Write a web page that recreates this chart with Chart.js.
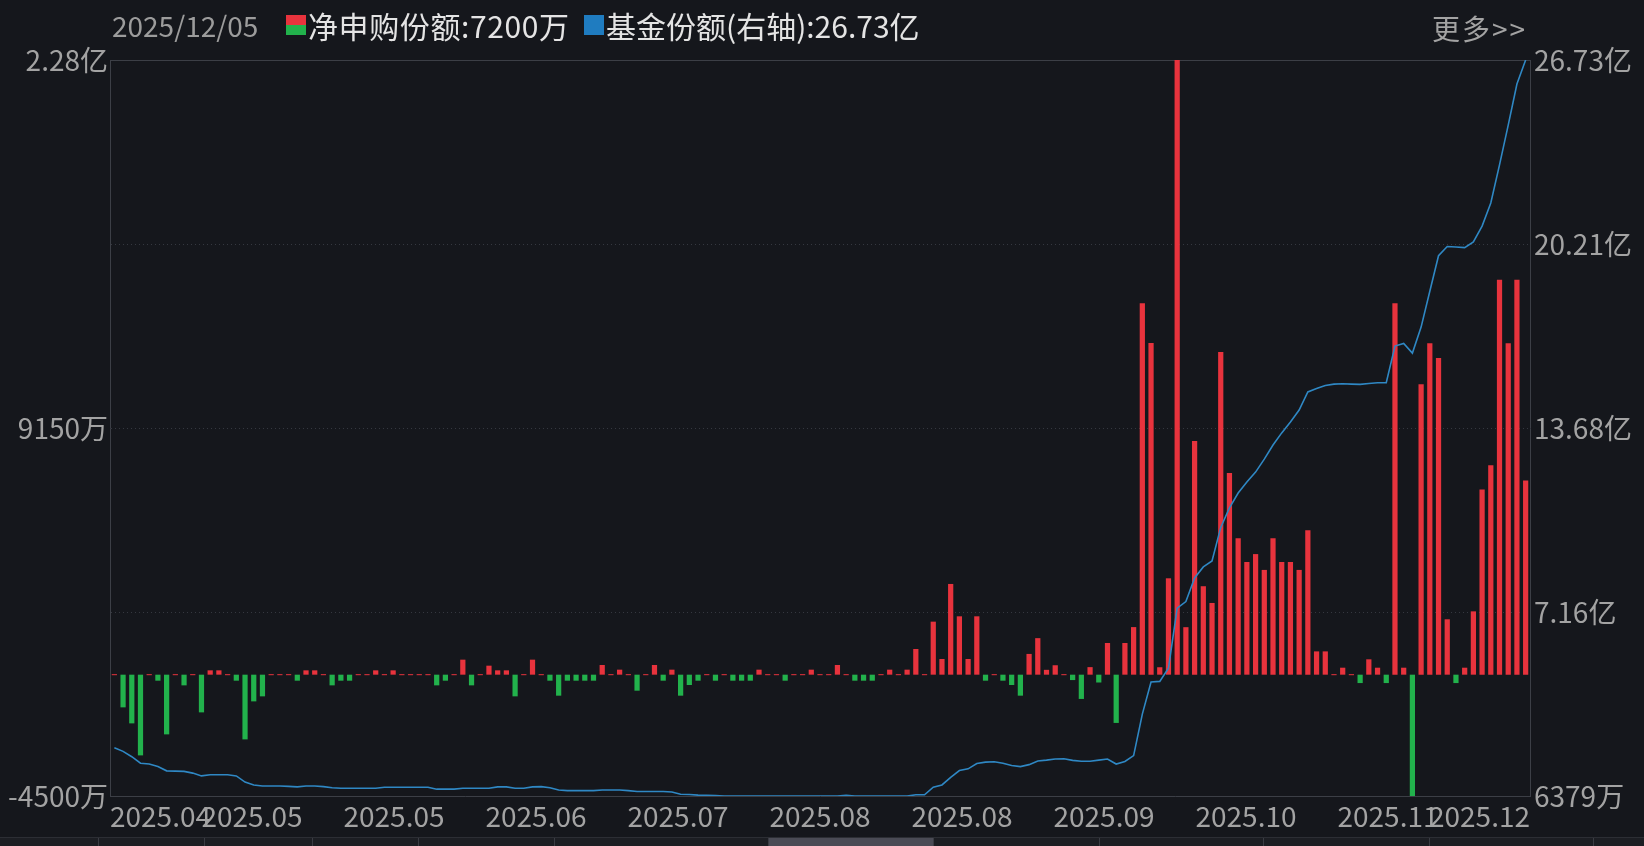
<!DOCTYPE html>
<html>
<head>
<meta charset="utf-8">
<script src="https://cdn.jsdelivr.net/npm/chart.js@4.4.1/dist/chart.umd.min.js"></script>
<style>
  html, body { margin: 0; padding: 0; background: #15171c; }
  #wrap { position: relative; width: 1644px; height: 846px; overflow: hidden;
          font-family: 'Noto Sans CJK SC', 'Noto Sans', sans-serif; }
  #chart { position: absolute; left: 0; top: 0; }
  .hd { position: absolute; top: 8px; height: 34px; line-height: 34px; font-size: 28px; white-space: nowrap; }
  .sq { position: absolute; top: 15px; width: 20px; height: 20px; }
  #nav { position: absolute; left: 0; top: 837px; width: 1644px; height: 9px; background: #1c1e23; border-top: 1px solid #2c2e34; }
  #nav div { position: absolute; top: 0; height: 9px; border-left: 1px solid #3a3c43; }
</style>
</head>
<body>
<div id="wrap">
  <canvas id="chart" width="1644" height="846"></canvas>
  <div class="hd" style="left:112px;color:#9c9c9c">2025/12/05</div>
  <div class="sq" style="left:286px;background:linear-gradient(#e8333d 50%, #22b24c 50%)"></div>
  <div class="hd" style="left:308px;font-size:30px;letter-spacing:0.6px;color:#e4e4e4">净申购份额:7200万</div>
  <div class="sq" style="left:584px;background:#1f7cc0"></div>
  <div class="hd" style="left:606px;font-size:30px;color:#e4e4e4">基金份额(右轴):26.73亿</div>
  <div class="hd" style="left:1432px;top:11px;letter-spacing:2px;color:#a3a3a3">更多&gt;&gt;</div>
  <div id="nav">
    <div style="left:98px;width:106px"></div>
    <div style="left:204px;width:108px"></div>
    <div style="left:312px;width:106px"></div>
    <div style="left:418px;width:136px"></div>
    <div style="left:554px;width:214px"></div>
    <div style="left:768px;width:165px;background:#4a4b55"></div>
    <div style="left:933px;width:166px"></div>
    <div style="left:1099px;width:164px"></div>
    <div style="left:1263px;width:166px"></div>
    <div style="left:1429px;width:164px"></div>
    <div style="left:1593px;width:51px"></div>
  </div>
</div>
<script>
// net subscription per day, in 万
const flows = [
  0, -1212, -1806, -2994, 0, -223, -2214, 0, -396, 0,
  -1398, 161, 161, 0, -223, -2400, -990, -804, 0, 0,
  0, -223, 161, 161, 0, -396, -223, -223, 0, 0,
  161, 0, 161, 0, 0, 0, 0, -396, -223, 0,
  557, -396, 0, 334, 161, 161, -804, 0, 557, 0,
  -223, -779, -223, -223, -223, -223, 359, 0, 186, 0,
  -594, 0, 359, -223, 186, -779, -383, -223, 0, -223,
  0, -223, -223, -223, 186, 0, 0, -223, 0, 0,
  186, 0, 0, 359, 0, -223, -223, -223, 0, 186,
  0, 186, 952, 0, 1967, 581, 3365, 2165, 581, 2165,
  -223, 0, -223, -383, -779, 770, 1355, 180, 350, 0,
  -200, -900, 280, -290, 1175, -1790, 1175, 1765, 13780, 12300,
  276, 3575, 22800, 1762, 8670, 3281, 2660, 11968, 7478, 5060,
  4179, 4473, 3886, 5060, 4179, 4179, 3886, 5354, 864, 864,
  0, 259, 0, -311, 570, 259, -311, 13781, 259, -4500,
  10776, 12296, 11744, 2055, -311, 259, 2349, 6873, 7772, 14645,
  12296, 14645, 7200
];
// fund shares, in 亿 (right axis)
const shares = [
  2.35, 2.22, 2.03, 1.80, 1.77, 1.68, 1.53, 1.52, 1.51, 1.45,
  1.35, 1.39, 1.39, 1.39, 1.35, 1.13, 1.03, 0.99, 0.99, 0.99,
  0.98, 0.96, 0.99, 0.99, 0.97, 0.93, 0.91, 0.91, 0.91, 0.91,
  0.91, 0.95, 0.95, 0.95, 0.95, 0.95, 0.95, 0.88, 0.88, 0.88,
  0.91, 0.91, 0.91, 0.91, 0.96, 0.96, 0.91, 0.91, 0.96, 0.97,
  0.93, 0.85, 0.83, 0.83, 0.83, 0.83, 0.85, 0.85, 0.85, 0.83,
  0.80, 0.80, 0.80, 0.80, 0.78, 0.70, 0.69, 0.67, 0.66, 0.65,
  0.6379, 0.6379, 0.6379, 0.6379, 0.6379, 0.6379, 0.6379, 0.6379, 0.6379, 0.6379,
  0.6379, 0.6379, 0.6379, 0.6379, 0.66, 0.6379, 0.6379, 0.6379, 0.6379, 0.6379,
  0.6379, 0.6379, 0.68, 0.68, 0.95, 1.03, 1.30, 1.54, 1.60, 1.79,
  1.84, 1.85, 1.80, 1.72, 1.68, 1.75, 1.88, 1.91, 1.95, 1.96,
  1.90, 1.87, 1.87, 1.91, 1.95, 1.77, 1.86, 2.07, 3.54, 4.68,
  4.70, 5.17, 7.30, 7.53, 8.37, 8.76, 8.97, 10.16, 10.85, 11.38,
  11.77, 12.12, 12.58, 13.08, 13.51, 13.90, 14.32, 14.96, 15.08, 15.19,
  15.24, 15.25, 15.24, 15.23, 15.26, 15.29, 15.29, 16.59, 16.68, 16.34,
  17.26, 18.53, 19.79, 20.12, 20.10, 20.08, 20.28, 20.84, 21.66, 23.01,
  24.42, 25.88, 26.73
];
// month labels under the axis
const xTicks = ['2025.04', '2025.05', '2025.05', '2025.06', '2025.07', '2025.08',
  '2025.08', '2025.09', '2025.10', '2025.11', '2025.12'];
const days = flows.map((_, i) => i + 1);

const RED = '#e8333d';
const GREEN = '#22b24c';
const BLUE = '#2f88c4';
const GRID = '#353840';
const AXIS = '#3c3f46';
const TEXT = '#a3a3a3';
const FONT = { family: "'Noto Sans CJK SC', 'Noto Sans', sans-serif", size: 28 };

const fmtWan = v => Math.abs(v) >= 10000 ? (v / 10000).toFixed(2) + '亿' : Math.round(v) + '万';
const fmtYi = v => v >= 1 ? v.toFixed(2) + '亿' : Math.round(v * 10000) + '万';
//five evenly spaced ticks from min to max
const quarters = scale => {
  const step = (scale.max - scale.min) / 4;
  scale.ticks = [0, 1, 2, 3, 4].map(k => ({ value: scale.min + k * step }));
};

new Chart(document.getElementById('chart'), {
  type: 'bar',
  data: {
    labels: days,
    datasets: [
      {
        type: 'line', data: shares, xAxisID: 'x', yAxisID: 'y1',
        borderColor: BLUE, borderWidth: 1.6, pointRadius: 0, tension: 0, order: 0,
      },
      {
        type: 'bar', data: flows, xAxisID: 'x', yAxisID: 'y',
        backgroundColor: c => c.raw < 0 ? GREEN : RED,
        barPercentage: 0.6, categoryPercentage: 1, minBarLength: 1, order: 1,
      },
    ],
  },
  options: {
    responsive: false,
    animation: false,
    layout: { padding: { top: 60 } },
    plugins: { legend: { display: false }, tooltip: { enabled: false } },
    scales: {
      x: { display: false, offset: true },
      xm: {
        type: 'linear', position: 'bottom', min: 0, max: 10, offset: false,
        afterBuildTicks: s => { s.ticks = xTicks.map((_, k) => ({ value: k })); },
        afterFit: s => { s.height = 50; },
        grid: { display: false, drawTicks: false, offset: false },
        border: { color: AXIS },
        ticks: { align: 'inner', color: TEXT, font: FONT, padding: 4, autoSkip: false, maxRotation: 0,
          callback: v => xTicks[v] },
      },
      y: {
        position: 'left', min: -4500, max: 22800,
        afterBuildTicks: quarters,
        afterFit: s => { s.width = 110; },
        grid: { color: c => (c.index > 0 && c.index < 4) ? GRID : 'transparent', drawTicks: false },
        border: { color: AXIS, dash: c => c.type === 'tick' ? [1, 3] : [] },
        ticks: { color: TEXT, font: FONT, padding: 2, autoSkip: false,
          callback: (v, i) => i % 2 === 0 ? fmtWan(v) : '' },
      },
      y1: {
        position: 'right', min: 0.6379, max: 26.73,
        afterBuildTicks: quarters,
        afterFit: s => { s.width = 114; },
        grid: { color: c => c.index === 4 ? AXIS : 'transparent', drawTicks: false },
        border: { color: AXIS },
        ticks: { color: TEXT, font: FONT, padding: 4, autoSkip: false, callback: fmtYi },
      },
    },
  },
});
</script>
</body>
</html>
